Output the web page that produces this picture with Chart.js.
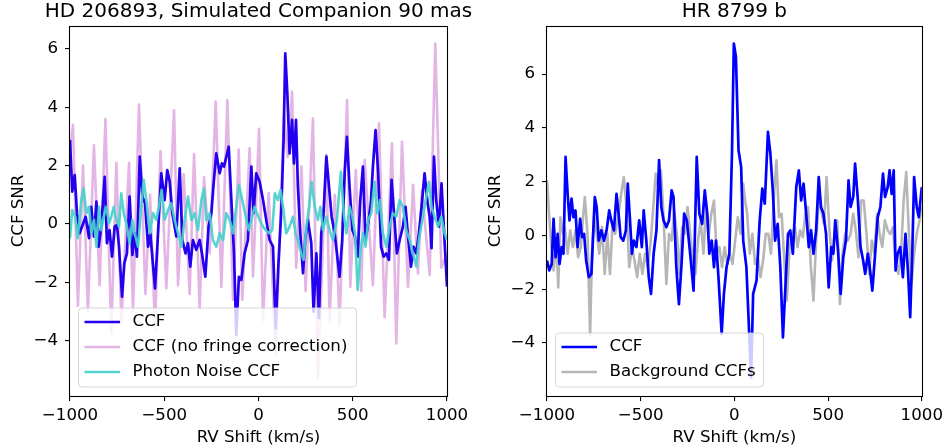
<!DOCTYPE html>
<html>
<head>
<meta charset="utf-8">
<script src="https://cdn.jsdelivr.net/npm/chart.js@4.4.1/dist/chart.umd.min.js"></script>
<style>
  body { margin: 0; background: #fff; }
  .panel { position: absolute; top: 0; width: 474px; height: 448px; }
  canvas { display: block; }
</style>
</head>
<body>
<div class="panel" style="left:0"><canvas id="graficoSimulado" width="474" height="448"></canvas></div>
<div class="panel" style="left:474px"><canvas id="graficoHR8799" width="474" height="448"></canvas></div>
<script>
// Panel izquierdo: HD 206893, compañero simulado
const leftCcfRv = [-1000,-988,-975,-963,-949,-917,-899,-887,-873,-860,-848,-834,-816,-804,-790,-777,-763,-751,-740,-724,-712,-698,-684,-669,-657,-645,-630,-616,-602,-586,-574,-549,-535,-516,-498,-484,-471,-457,-436,-418,-404,-387,-374,-362,-348,-330,-312,-300,-282,-265,-250,-238,-224,-206,-194,-183,-158,-144,-130,-118,-104,-91,-74,-56,-38,-26,-12,6,24,41,59,77,91,105,121,133,142,153,165,178,188,199,209,222,236,248,262,280,292,307,321,333,345,360,374,388,404,416,430,444,457,469,483,498,512,526,540,554,568,582,596,607,621,635,650,664,678,692,706,720,734,749,766,780,795,809,823,837,851,865,881,895,908,918,931,943,957,971,984,1000];
const leftCcfSnr = [2.88,1.11,1.68,0.37,-0.32,0.25,-0.49,0.59,-0.43,0.77,-0.78,-0.09,1.62,-0.66,-0.21,-1.12,-0.09,-0.03,-0.78,-2.49,-1.35,-1.01,0.94,-1.06,-0.32,-1.12,2.31,0.94,0.71,-0.78,-0.32,-2.21,-0.55,1.74,0.82,1.85,1.45,0.37,-0.43,1.91,-0.55,-1.01,-0.66,-1.46,-0.55,-0.89,-0.55,-1.01,-1.81,-0.09,0.37,1.39,2.42,1.74,2.08,1.97,2.65,0.82,-1.01,-3.81,-1.81,-1.92,-1.01,-0.55,1.97,0.37,1.74,1.45,0.82,0.14,-0.55,-0.78,-3.58,-1.46,0.48,2.88,5.85,4.48,2.42,3.57,2.08,3.57,1.28,-0.32,-1.69,-0.55,0.14,-0.66,-3.01,-1.01,-3.23,-0.32,0.37,2.31,1.28,0.25,-0.32,-1.01,-1.81,-0.55,1.74,2.99,1.28,-0.21,-0.43,-1.12,0.82,1.97,-0.55,0.02,0.71,1.97,3.22,1.74,-0.78,-1.12,-1.01,-1.23,1.51,0.25,-1.01,-0.55,-0.09,0.59,-0.55,-1.46,-0.78,-1.01,-0.32,0.59,1.74,0.82,0.25,-0.83,2.31,0.82,-0.09,1.39,-0.21,-2.15];

const noFringeRv = [-1000,-984,-958,-931,-905,-873,-843,-812,-781,-754,-727,-687,-666,-634,-600,-575,-549,-520,-489,-448,-427,-397,-365,-342,-312,-289,-259,-227,-197,-165,-135,-105,-86,-47,-29,3,24,54,91,135,155,178,200,228,250,289,315,360,377,405,430,470,487,516,545,563,607,639,669,708,731,761,793,820,846,867,908,938,970,1000];
const noFringeSnr = [2.5,3.4,-2.8,2.0,-3.0,2.7,-2.1,3.6,-3.75,2.1,-3.4,2.1,-3.0,4.1,-2.4,1.0,-3.6,2.5,-2.2,3.9,-2.1,1.7,-2.4,2.4,-2.9,1.6,-1.0,4.2,-2.15,4.25,-2.6,2.55,-2.6,2.6,-1.8,3.26,-3.3,1.06,-4.5,3.74,2.3,4.54,-1.5,1.97,-2.3,3.62,-5.3,2.37,-3.3,1.0,-3.46,4.25,-2.15,1.85,-2.3,2.19,-2.1,3.45,-3.2,2.77,-4.1,2.82,-2.15,1.34,-1.7,1.17,-1.75,6.19,-1.5,-1.0];

const photonRv = [-1000,-988,-973,-959,-940,-928,-913,-899,-887,-873,-860,-846,-834,-821,-807,-793,-781,-768,-754,-740,-728,-715,-701,-684,-669,-657,-639,-622,-609,-595,-577,-560,-542,-528,-514,-498,-480,-463,-445,-427,-409,-392,-374,-356,-339,-321,-303,-289,-277,-259,-242,-224,-206,-188,-171,-153,-135,-118,-104,-86,-68,-51,-33,-21,-8,6,24,38,56,73,87,103,117,130,147,165,183,197,209,227,239,254,268,282,298,315,328,342,360,377,395,416,437,452,466,483,498,512,526,540,554,568,582,598,616,630,644,660,678,696,713,731,749,766,784,802,819,837,851,869,887,904,918,934,952,970,987,1000];
const photonSnr = [-0.49,0.48,0.25,-0.49,0.82,1.22,0.37,0.59,-0.32,0.14,-0.78,0.59,-0.21,0.25,0.59,0.02,0.25,0.59,0.14,-0.09,1.05,0.37,0.02,-0.66,0.14,-0.32,-0.78,0.59,1.51,0.82,-0.32,0.37,0.14,0.59,1.17,0.14,0.48,0.71,0.14,-0.32,-0.78,0.14,0.94,0.14,0.37,-0.21,0.82,1.22,0.14,0.37,-0.55,-0.78,-0.32,-0.55,0.37,0.14,-0.32,0.59,1.34,0.82,0.25,-0.21,0.25,0.59,0.37,0.14,-0.09,-0.21,-0.32,-0.21,1.05,0.82,1.17,0.59,-0.32,-0.09,0.25,-0.32,-0.55,-1.01,-1.23,-0.09,0.59,1.45,0.59,0.14,0.59,-0.21,0.25,-0.21,-0.55,0.14,1.79,0.37,-0.32,0.59,0.25,-0.32,-2.26,-1.01,-0.32,-0.78,0.14,0.37,1.45,0.37,0.82,-0.32,-0.78,-0.09,0.37,0.25,0.82,0.59,-0.21,-0.55,-1.01,-1.46,-0.55,0.14,0.82,1.45,0.59,0.25,-0.09,0.25,-0.32,-0.55];

// Panel derecho: HR 8799 b
const rightCcfRv = [-1000,-988,-975,-965,-954,-943,-933,-922,-912,-901,-890,-880,-869,-859,-848,-837,-823,-813,-802,-791,-777,-763,-745,-735,-724,-710,-696,-682,-668,-657,-643,-629,-618,-607,-593,-579,-569,-558,-547,-537,-523,-508,-494,-484,-470,-457,-445,-431,-416,-402,-390,-378,-363,-349,-335,-325,-310,-296,-282,-268,-254,-236,-218,-201,-187,-172,-158,-145,-134,-121,-109,-98,-84,-68,-56,-42,-27,-13,-3,8,22,36,47,64,79,89,100,118,135,149,162,179,192,206,217,231,245,259,273,286,298,312,330,344,356,369,383,397,409,422,436,450,462,475,489,503,517,528,538,553,567,581,595,609,620,634,644,659,673,687,698,712,722,736,751,765,779,793,804,818,828,839,850,860,871,885,899,913,927,938,949,959,973,984,1000];
const rightCcfSnr = [-0.93,-1.30,-1.06,0.62,-0.81,0.06,-1.06,-0.43,-0.68,2.92,1.55,0.56,1.37,0.68,0.93,-0.43,0.62,-0.06,0.06,-0.93,-1.55,-1.43,1.43,1.06,-0.19,0.19,-0.19,0.19,0.93,0.56,0.19,1.55,0.81,-0.06,-0.19,0.19,1.93,0.68,-0.68,-0.19,-0.43,0.56,-0.43,0.93,-0.19,-1.55,-2.17,-0.68,0.19,2.80,1.06,0.56,0.31,0.56,1.68,1.43,-1.18,-2.55,-1.06,0.81,0.56,-0.68,-2.05,2.92,0.81,0.43,1.68,0.81,-0.68,-0.19,-1.18,-0.19,-1.68,-3.66,-2.17,-1.18,-0.68,3.04,7.14,6.65,3.17,2.55,-0.19,-1.18,-3.66,-5.28,-2.17,-1.68,0.56,1.74,1.18,3.85,3.04,1.55,-0.19,0.43,-1.18,-3.79,-1.80,0.06,0.19,-0.68,1.80,2.42,1.30,1.93,0.81,-0.43,0.19,-0.68,0.19,2.17,1.06,0.81,0.06,-1.93,-0.43,-0.68,0.56,-0.56,-2.17,-0.81,-0.19,2.05,1.06,1.43,2.67,1.30,-0.43,-0.93,-1.43,-0.68,-1.18,-2.05,-0.68,0.68,1.06,2.30,1.43,1.80,2.42,1.55,2.42,-1.30,-0.68,-0.43,-1.55,0.06,-1.43,-3.04,-0.68,2.17,1.06,0.68,1.80];

const backgroundRv = [-1000,-989,-979,-965,-950,-940,-929,-915,-905,-890,-876,-862,-848,-834,-820,-809,-798,-784,-770,-760,-749,-735,-721,-706,-692,-678,-664,-650,-636,-618,-604,-590,-576,-561,-547,-533,-519,-505,-491,-477,-462,-448,-434,-420,-406,-392,-378,-363,-349,-335,-321,-307,-293,-279,-265,-250,-236,-222,-208,-194,-180,-165,-151,-137,-123,-109,-95,-80,-66,-52,-38,-24,-10,4,18,33,47,57,68,82,96,110,125,139,153,167,181,195,210,224,238,252,266,280,294,309,323,337,351,365,379,393,408,422,436,450,464,478,492,507,521,535,549,563,577,591,606,620,634,648,662,676,690,705,719,733,747,761,775,789,803,818,832,846,860,875,889,903,917,931,945,959,973,988,1000];
const backgroundSnr = [2.05,0.81,-0.19,-1.30,-0.19,-1.93,0.68,0.06,0.31,-0.68,0.19,-0.43,0.19,-0.81,-0.43,0.56,1.43,0.06,-3.7,-0.68,0.68,0.06,-0.68,0.31,-1.43,0.06,-1.43,0.43,0.06,0.81,1.55,2.17,1.06,-1.18,-0.43,-0.93,-1.55,-0.68,-1.43,-0.68,-1.18,-0.31,0.93,2.30,1.80,2.42,0.68,-1.80,0.06,-0.19,0.93,0.06,-1.43,0.31,0.06,1.06,0.06,-0.93,-1.43,-0.19,0.56,-0.68,1.18,0.06,0.81,1.30,-0.68,-0.43,-1.18,-0.43,-1.06,-0.68,-1.06,-0.19,0.68,0.06,1.93,1.30,0.81,-0.68,0.06,-1.06,-0.81,-1.55,-0.93,0.06,0.06,-0.68,1.30,2.80,0.68,0.81,-0.93,-2.42,-0.43,0.06,0.31,-0.43,0.19,-0.06,0.81,1.06,-1.18,-2.42,-0.19,1.30,0.93,0.43,2.17,0.19,-0.93,0.06,0.56,-2.55,-0.68,0.06,-0.19,0.06,0.81,0.19,-0.81,1.30,1.30,0.06,-1.43,-0.19,-0.68,0.81,0.06,-0.43,0.56,0.19,0.06,0.31,-1.06,-1.43,-0.68,1.30,2.36,0.06,-1.80,-0.68,0.06,0.56,1.06];

const rvTicks = [-1000, -500, 0, 500, 1000];
const snrTicks = [-4, -2, 0, 2, 4, 6];

const FONT = '"DejaVu Sans"';
const menos = v => (v < 0 ? '\u2212' + Math.abs(v) : String(v));
const puntos = (xs, ys) => xs.map((x, i) => ({ x: x, y: ys[i] }));

function serie(label, xs, ys, color, width) {
    return {
        label: label,
        data: puntos(xs, ys),
        borderColor: color,
        borderWidth: width,
        borderJoinStyle: 'round',
        pointRadius: 0,
        tension: 0,
        fill: false
    };
}

// marco, título y leyenda al estilo matplotlib
function decoracion(titulo, entradas, anchoLeyenda) {
    return {
        id: 'decoracion',
        afterDatasetsDraw(chart) {
            const ctx = chart.ctx;
            const a = chart.chartArea;
            const h = 25 * entradas.length + 4;
            const x0 = a.left + 8.5;
            const y0 = a.bottom - 9 - h;
            ctx.save();
            ctx.beginPath();
            ctx.roundRect(x0, y0, anchoLeyenda, h, 3.5);
            ctx.fillStyle = 'rgba(255,255,255,0.8)';
            ctx.fill();
            ctx.strokeStyle = 'rgba(204,204,204,0.8)';
            ctx.lineWidth = 1;
            ctx.stroke();
            ctx.font = '16.67px ' + FONT;
            ctx.textBaseline = 'middle';
            ctx.fillStyle = '#000';
            entradas.forEach((e, i) => {
                const y = y0 + 14 + 25 * i;
                ctx.beginPath();
                ctx.moveTo(x0 + 6, y);
                ctx.lineTo(x0 + 41.5, y);
                ctx.strokeStyle = e.color;
                ctx.lineWidth = 2.7;
                ctx.stroke();
                ctx.fillText(e.label, x0 + 54, y);
            });
            ctx.restore();
        },
        afterDraw(chart) {
            const ctx = chart.ctx;
            const a = chart.chartArea;
            ctx.save();
            ctx.strokeStyle = '#000';
            ctx.lineWidth = 1.1;
            ctx.strokeRect(Math.round(a.left) - 0.5, Math.round(a.top) + 0.5,
                Math.round(a.right) - Math.round(a.left) + 1, Math.round(a.bottom) - Math.round(a.top));
            ctx.font = '20px ' + FONT;
            ctx.textAlign = 'center';
            ctx.textBaseline = 'alphabetic';
            ctx.fillStyle = '#000';
            ctx.fillText(titulo, (a.left + a.right) / 2, 17);
            ctx.restore();
        }
    };
}

function opciones(yMin, yMax, anchoEjeY, padDerecha, padTituloY) {
    return {
        responsive: false,
        animation: false,
        devicePixelRatio: 1,
        layout: { padding: { left: 0, right: padDerecha, top: 26, bottom: 0 } },
        plugins: { legend: { display: false }, tooltip: { enabled: false } },
        scales: {
            x: {
                type: 'linear',
                min: -1000,
                max: 1000,
                afterBuildTicks: s => { s.ticks = rvTicks.map(v => ({ value: v })); },
                afterFit: s => { s.height = 52; },
                border: { display: false },
                grid: { drawOnChartArea: false, drawTicks: true, tickLength: 5, color: '#000', lineWidth: 1.1 },
                ticks: {
                    color: '#000',
                    padding: 5,
                    maxRotation: 0,
                    font: { family: FONT, size: 16.67 },
                    callback: v => menos(v)
                },
                title: {
                    display: true,
                    text: 'RV Shift (km/s)',
                    color: '#000',
                    font: { family: FONT, size: 16.67 },
                    padding: { top: 0, bottom: 0 }
                }
            },
            y: {
                type: 'linear',
                min: yMin,
                max: yMax,
                afterBuildTicks: s => { s.ticks = snrTicks.map(v => ({ value: v })); },
                afterFit: s => { s.width = anchoEjeY; },
                border: { display: false },
                grid: { drawOnChartArea: false, drawTicks: true, tickLength: 5, color: '#000', lineWidth: 1.1 },
                ticks: {
                    color: '#000',
                    padding: 7,
                    font: { family: FONT, size: 16.67 },
                    callback: v => menos(v)
                },
                title: {
                    display: true,
                    text: 'CCF SNR',
                    color: '#000',
                    font: { family: FONT, size: 16.67 },
                    padding: { top: padTituloY, bottom: 0 }
                }
            }
        }
    };
}

const colorCcf = 'rgb(35,0,240)';
const colorPlum = 'rgba(221,160,221,0.78)';
const colorTurq = 'rgba(72,209,204,0.92)';

new Chart(document.getElementById('graficoSimulado').getContext('2d'), {
    type: 'line',
    data: {
        datasets: [
            serie('Photon Noise CCF', photonRv, photonSnr, colorTurq, 2.6),
            serie('CCF', leftCcfRv, leftCcfSnr, colorCcf, 2.7),
            serie('CCF (no fringe correction)', noFringeRv, noFringeSnr, colorPlum, 2.6)
        ]
    },
    options: opciones(-5.9, 6.79, 70, 27, 9),
    plugins: [decoracion('HD 206893, Simulated Companion 90 mas', [
        { label: 'CCF', color: colorCcf },
        { label: 'CCF (no fringe correction)', color: colorPlum },
        { label: 'Photon Noise CCF', color: colorTurq }
    ], 278)]
});

new Chart(document.getElementById('graficoHR8799').getContext('2d'), {
    type: 'line',
    data: {
        datasets: [
            serie('CCF', rightCcfRv, rightCcfSnr, '#0000ff', 2.7),
            serie('Background CCFs', backgroundRv, backgroundSnr, 'rgba(169,169,169,0.85)', 2.6)
        ]
    },
    options: opciones(-5.97, 7.79, 73, 24, 12),
    plugins: [decoracion('HR 8799 b', [
        { label: 'CCF', color: '#0000ff' },
        { label: 'Background CCFs', color: 'rgba(169,169,169,0.85)' }
    ], 208)]
});
</script>
</body>
</html>
